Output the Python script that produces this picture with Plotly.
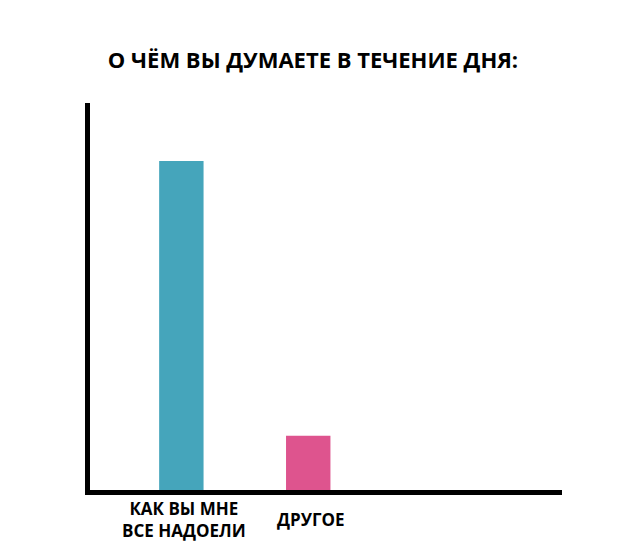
import plotly.graph_objects as go

# данные
categorias = ["КАК ВЫ МНЕ<br>ВСЕ НАДОЕЛИ", "ДРУГОЕ"]
valores = [85, 14]
colores = ["#45a5bb", "#de548e"]

fig = go.Figure()
fig.add_trace(go.Bar(x=categorias, y=valores, marker_color=colores, marker_line_width=0, width=0.35))

# подписи категорий: по центру по вертикали, как в оригинале
for cat in categorias:
    fig.add_annotation(x=cat, y=0, xref="x", yref="y", text="<b>" + cat + "</b>",
                       showarrow=False, yanchor="middle", xanchor="center",
                       yshift=-29, xshift=3, font=dict(size=17, color="black"))

# страница рисуется со сдвигом 8px (отступ body), поэтому поля уменьшены
fig.update_layout(
    width=630, height=550,
    paper_bgcolor="white", plot_bgcolor="white",
    margin=dict(l=82, r=76, t=95, b=68),
    font=dict(family="Open Sans", color="black"),
    title=dict(text="<b>О ЧЁМ ВЫ ДУМАЕТЕ В ТЕЧЕНИЕ ДНЯ:</b>", x=(313 - 8) / 630, xanchor="center",
               y=1 - 52 / 550, yanchor="middle", font=dict(size=22, color="black")),
    showlegend=False,
)
fig.update_xaxes(range=[-0.72, 3.0], showline=True, linewidth=5, linecolor="black",
                 showgrid=False, ticks="", showticklabels=False, fixedrange=True)
fig.update_yaxes(range=[0, 100], showline=True, linewidth=5, linecolor="black",
                 showgrid=False, zeroline=False, showticklabels=False, ticks="")

fig.write_html("out.html")
